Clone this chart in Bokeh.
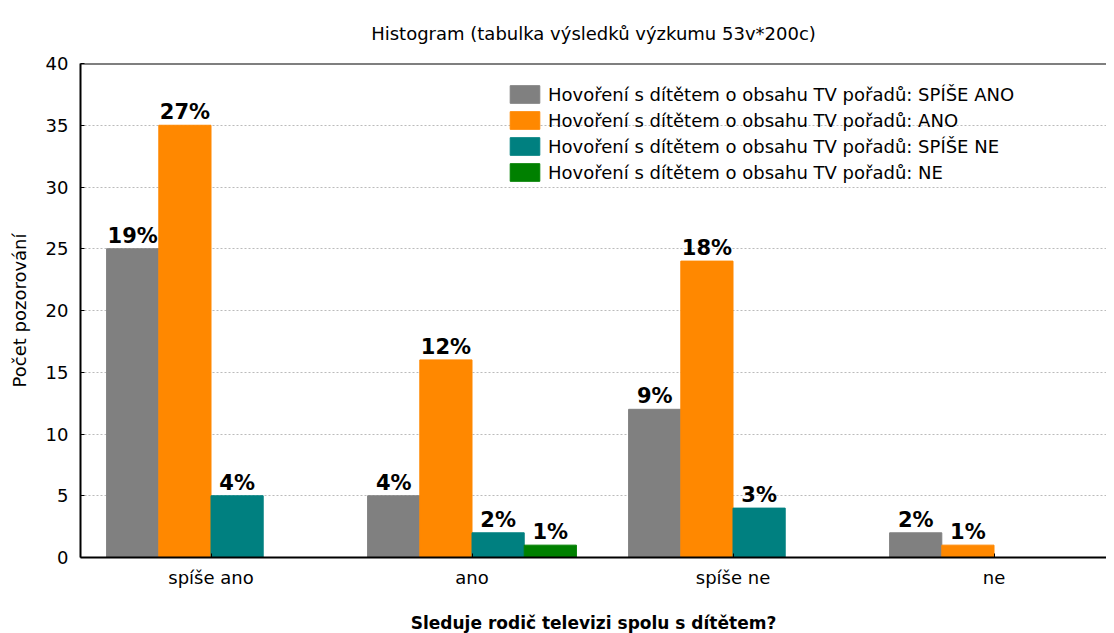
from bokeh.plotting import figure
from bokeh.models import Range1d, FixedTicker, ColumnDataSource, Span, Legend, LegendItem
from bokeh.embed import file_html
from bokeh.resources import INLINE
from bokeh.core.properties import value

# ---- data ----
categories = ["spíše ano", "ano", "spíše ne", "ne"]
series = [
    "Hovoření s dítětem o obsahu TV pořadů: SPÍŠE ANO",
    "Hovoření s dítětem o obsahu TV pořadů: ANO",
    "Hovoření s dítětem o obsahu TV pořadů: SPÍŠE NE",
    "Hovoření s dítětem o obsahu TV pořadů: NE",
]
spise_ano_counts = [25, 5, 12, 2]
ano_counts = [35, 16, 24, 1]
spise_ne_counts = [5, 2, 4, 0]
ne_counts = [0, 1, 0, 0]
spise_ano_pct = ["19%", "4%", "9%", "2%"]
ano_pct = ["27%", "12%", "18%", "1%"]
spise_ne_pct = ["4%", "2%", "3%", ""]
ne_pct = ["", "1%", "", ""]
y_ticks = [0, 5, 10, 15, 20, 25, 30, 35, 40]

colors = ["#808080", "#FF8800", "#008080", "#008000"]
offsets = [-0.3, -0.1, 0.1, 0.3]
counts = [spise_ano_counts, ano_counts, spise_ne_counts, ne_counts]
pcts = [spise_ano_pct, ano_pct, spise_ne_pct, ne_pct]

FONT = "DejaVu Sans"

p = figure(frame_width=1026, frame_height=494, output_backend="svg", toolbar_location=None,
           x_range=Range1d(0, 3.931), y_range=Range1d(0, 40),
           min_border_left=80, min_border_right=0, min_border_top=63, min_border_bottom=60,
           title="Histogram (tabulka výsledků výzkumu 53v*200c)")
p.title.align = "center"
p.title.vertical_align = "top"
p.title.text_font = FONT
p.title.text_font_size = "18px"
p.title.text_font_style = "normal"
p.title.text_color = "black"
p.title.standoff = 36
p.outline_line_color = None

centers = [i + 0.5 for i in range(len(categories))]

items = []
for k in range(4):
    xs = [c + offsets[k] for c in centers]
    src = ColumnDataSource(dict(x=xs, top=counts[k]))
    r = p.vbar(x="x", top="top", width=0.2, bottom=0, source=src,
               fill_color=colors[k], line_color=colors[k], line_width=1)
    items.append(LegendItem(label=series[k], renderers=[r]))
    idx = [j for j in range(len(xs)) if pcts[k][j] != ""]
    tsrc = ColumnDataSource(dict(x=[xs[j] for j in idx], y=[counts[k][j] for j in idx],
                                 t=[pcts[k][j] for j in idx]))
    p.text(x="x", y="y", text="t", source=tsrc, text_align="center",
           text_baseline="bottom", y_offset=-1,
           text_font=value(FONT), text_font_style="bold", text_font_size="21px",
           text_color="black")

p.add_layout(Span(location=40, dimension="width", line_color="black", line_width=2))

p.xgrid.visible = False
p.ygrid.ticker = FixedTicker(ticks=y_ticks[1:-1])
p.ygrid.grid_line_color = "#bbbbbb"
p.ygrid.grid_line_dash = "2 2"

p.xaxis.ticker = FixedTicker(ticks=centers)
p.xaxis.major_label_overrides = {c: categories[i] for i, c in enumerate(centers)}
p.yaxis.ticker = FixedTicker(ticks=y_ticks)

for ax in (p.xaxis[0], p.yaxis[0]):
    ax.axis_line_color = "black"
    ax.axis_line_width = 2
    ax.major_tick_in = 4
    ax.major_tick_out = 0
    ax.major_tick_line_color = "black"
    ax.minor_tick_line_color = None
    ax.major_label_text_font = FONT
    ax.major_label_text_font_size = "18px"
    ax.major_label_text_color = "black"
    ax.axis_label_text_font = FONT
    ax.axis_label_text_color = "black"

p.xaxis.major_label_standoff = 9
p.xaxis.axis_label = "Sleduje rodič televizi spolu s dítětem?"
p.xaxis.axis_label_text_font_size = "17px"
p.xaxis.axis_label_text_font_style = "bold"
p.xaxis.axis_label_standoff = 22
p.yaxis.axis_label = "Počet pozorování"
p.yaxis.axis_label_text_font_size = "18px"
p.yaxis.axis_label_text_font_style = "normal"
p.yaxis.major_label_standoff = 12
p.yaxis.axis_label_standoff = 13

legend = Legend(items=items, location=(426, 374), glyph_width=37, glyph_height=22,
                label_height=22, spacing=4, padding=0, margin=0, label_standoff=5,
                border_line_color=None, background_fill_alpha=0,
                label_text_font=FONT, label_text_font_size="18px", label_text_color="black")
p.add_layout(legend)

open("out.html", "w").write(file_html(p, INLINE))
